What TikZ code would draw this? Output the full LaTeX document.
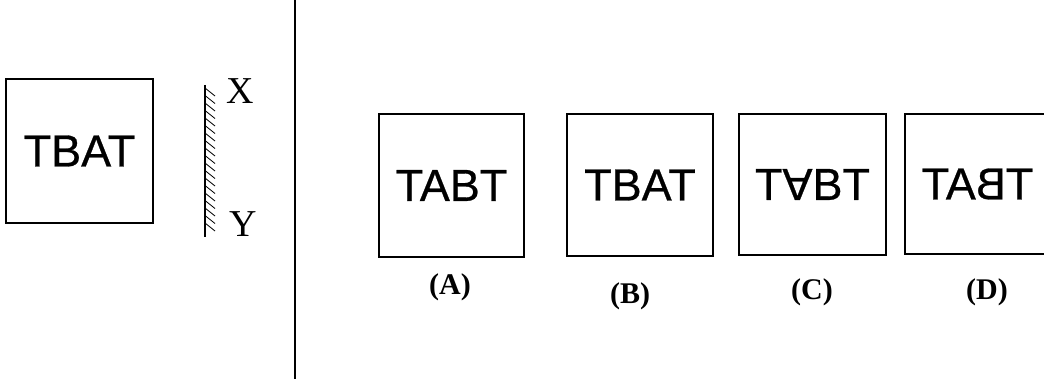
\documentclass[tikz,border=0pt]{standalone}
\usepackage{fontspec}
\setmainfont{Liberation Serif}
\newfontfamily\arialfont{Liberation Sans}[FakeBold=0.6]
\usepackage{graphicx}
\begin{document}
\begin{tikzpicture}[x=1pt,y=-1pt,
  figbox/.style={draw, line width=1.4pt, inner sep=0pt, font=\arialfont\fontsize{45}{45}\selectfont},
  optlabel/.style={font=\bfseries\fontsize{30}{30}\selectfont, inner sep=0pt},
  mirrorlbl/.style={font=\fontsize{38}{38}\selectfont, inner sep=0pt},
  hatch/.style={line width=0.8pt}]
\useasboundingbox (0,0) rectangle (1044,379);
\clip (0,0) rectangle (1044,379);
% question figure
\node[figbox, minimum width=147pt, minimum height=144pt] (q) at (79.5,151) {TBAT};
% mirror
\coordinate (mt) at (205,85);
\coordinate (mb) at (205,237);
\draw[line width=1.2pt] (mt) -- (mb);
\foreach \y in {88,95.5,...,228} \draw[hatch] (205,\y) -- ++(10,8);
\node[mirrorlbl] (X) at (240,91) {X};
\node[mirrorlbl] (Y) at (243,224) {Y};
% divider
\coordinate (dt) at (295,0);
\coordinate (db) at (295,379);
\draw[line width=2.5pt] (dt) -- (db);
% answer figures
\node[figbox, minimum width=145pt, minimum height=143pt] (A) at (451.5,185.5) {TABT};
\node[figbox, minimum width=146pt, minimum height=142pt] (B) at (640,185) {TBAT};
\node[figbox, minimum width=147pt, minimum height=141pt] (C) at (812.5,184.5) {T\rotatebox[origin=c]{180}{A}BT};
\node[figbox, minimum width=145pt, minimum height=140pt] (D) at (977.5,184) {TA\reflectbox{B}T};
\node[optlabel] (la) at (450,287) {(A)};
\node[optlabel] (lb) at (630,296) {(B)};
\node[optlabel] (lc) at (812,292) {(C)};
\node[optlabel] (ld) at (987,292) {(D)};
\end{tikzpicture}
\end{document}
